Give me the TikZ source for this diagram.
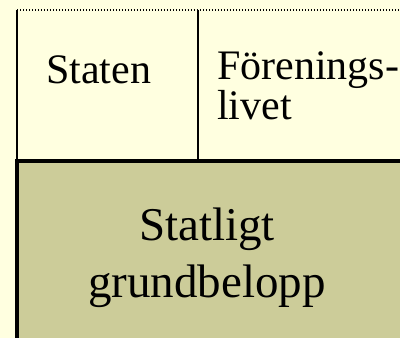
\documentclass[tikz,border=0pt]{standalone}
\usepackage{fontspec}
\setmainfont{Liberation Serif}
\usetikzlibrary{positioning}
\definecolor{paperyellow}{HTML}{FFFFE0}
\definecolor{olivefill}{HTML}{CCCC99}

\begin{document}
\begin{tikzpicture}[x=1pt, y=-1pt,
    celltext/.style={inner sep=0pt, font=\fontsize{42}{36}\selectfont, align=left},
    basetext/.style={inner sep=0pt, font=\fontsize{47}{57}\selectfont, align=center},
    thinrule/.style={draw=black, line width=1.1pt}]

    \fill[paperyellow] (0,0) rectangle (400,338);
    \useasboundingbox (0,0) rectangle (400,338);
    \clip (0,0) rectangle (400,338);

    % upper row of cells
    \draw [thinrule, line width=1.4pt, dash pattern=on 1.4pt off 1.6pt] (17,10) -- (410,10);
    \draw [thinrule] (17,10) -- (17,161);
    \draw [thinrule] (198,10) -- (198,161);

    % lower cell
    \draw [line width=3.5pt, fill=olivefill] (17,161) rectangle (420,360);

    \node (staten) [celltext, anchor=base west] at (46,83) {Staten};
    \node (forening) [celltext, anchor=base west] at (217,119) {Förenings-\\livet};
    \node (grundbelopp) [basetext, anchor=base] at (207,297) {Statligt\\grundbelopp};
\end{tikzpicture}
\end{document}
